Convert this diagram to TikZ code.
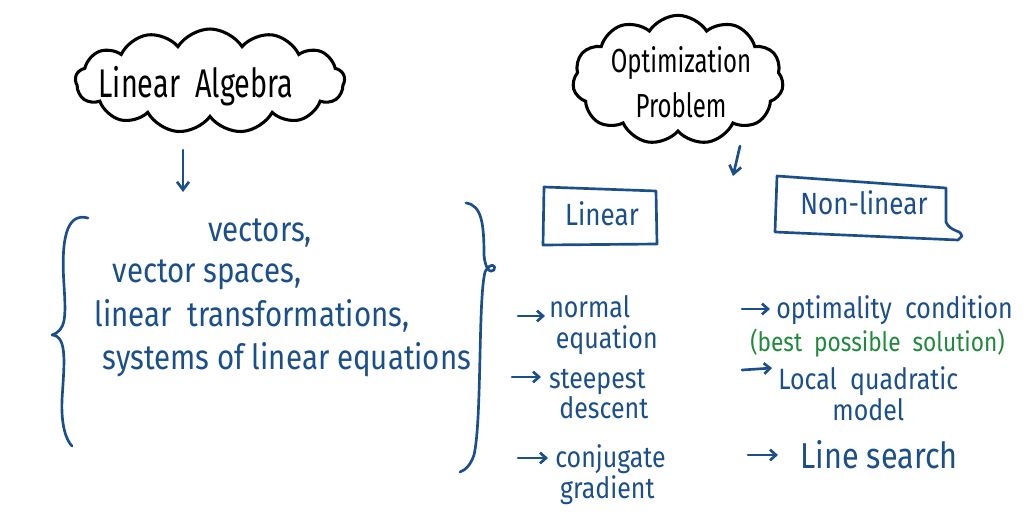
\documentclass[tikz,border=0pt]{standalone}
\usepackage{fontspec}
\setmainfont{Fira Sans}
\newfontfamily\hand[FakeStretch=0.85]{Fira Sans}
\newfontfamily\handnarrow[FakeStretch=0.72]{Fira Sans}
\usetikzlibrary{shapes.symbols,arrows.meta}
\definecolor{ink}{HTML}{1B4F8C}
\definecolor{inkgreen}{HTML}{1F8A3B}
\begin{document}
\begin{tikzpicture}[x=0.75pt,y=-0.75pt,
  cloudshape/.style={cloud, draw=black, line width=2.3pt, cloud puffs=13, cloud puff arc=115, cloud ignores aspect, inner sep=0pt},
  bigtext/.style={font=\handnarrow\fontsize{30}{34}\selectfont, text=black, inner sep=0pt},
  lefttext/.style={font=\hand\fontsize{26}{28}\selectfont, text=ink, inner sep=0pt},
  bluetext/.style={font=\hand\fontsize{22}{23}\selectfont, text=ink, inner sep=0pt},
  greentext/.style={font=\hand\fontsize{20}{22}\selectfont, text=inkgreen, inner sep=0pt},
  inkline/.style={draw=ink, line width=2pt, line cap=round, line join=round},
  arr/.style={inkline, -{Straight Barb[length=6pt,width=9pt,line width=2pt]}},
  bul/.style={inkline, -{Straight Barb[length=4.5pt,width=8pt,line width=2pt]}}
]
\useasboundingbox (0,0) rectangle (1024,528);

% clouds
\node[cloudshape, minimum width=202pt, minimum height=78pt] (la) at (210,81) {};
\node[bigtext] (latext) at (196,86) {Linear\ \ Algebra};
\node[cloudshape, cloud puffs=11, minimum width=158pt, minimum height=97pt] (op) at (678,80) {};
\node[bigtext, font=\handnarrow\fontsize{25}{34}\selectfont, align=center] (optext) at (681,82) {Optimization\\Problem};

% arrows from clouds
\coordinate (las) at (183,150);
\coordinate (lae) at (183,192);
\draw[arr] (las) -- (lae);
\coordinate (ops) at (740,146);
\coordinate (ope) at (733,176);
\draw[arr] (ops) -- (ope);

% linear algebra content
\node[lefttext] (v1) at (260,233) {vectors,};
\node[lefttext] (v2) at (207,275) {vector spaces,};
\node[lefttext] (v3) at (252,316) {linear\ \ transformations,};
\node[lefttext] (v4) at (287,360) {systems of linear equations};

% braces
\draw[inkline] (88,218) .. controls (66,212) and (61,240) .. (64,285)
  .. controls (66,318) and (66,330) .. (52,335)
  .. controls (68,336) and (64,365) .. (62,400)
  .. controls (61,425) and (66,440) .. (72,446);
\draw[inkline] (466,203) .. controls (482,205) and (484,225) .. (484,255)
  .. controls (485,268) and (490,274) .. (494,270)
  .. controls (497,265) and (490,262) .. (485,272)
  .. controls (478,300) and (482,420) .. (474,455)
  .. controls (471,464) and (466,470) .. (460,472);

% boxes
\node[bluetext, font=\hand\fontsize{23}{24}\selectfont] (lin) at (602,214) {Linear};
\draw[inkline] (544,187) -- (656,191) -- (657,244) -- (543,245) -- cycle;
\node[bluetext, font=\hand\fontsize{23}{24}\selectfont] (nonlin) at (864,203) {Non-linear};
\draw[inkline] (777,176) -- (946,188) -- (946,222)
  .. controls (950,232) and (962,230) .. (962,236)
  -- (958,240) -- (775,232) -- cycle;

% linear methods
\node[bluetext, align=left, anchor=west] (m1) at (549,325) {normal\\\ equation};
\coordinate (m1a) at (518,316);
\draw[bul] (m1a) -- (545,316);
\node[bluetext, align=center, anchor=west] (m2) at (546,394) {steepest\\\ \ descent};
\coordinate (m2a) at (512,377);
\draw[bul] (m2a) -- (541,377);
\node[bluetext, align=left, anchor=west] (m3) at (555,475) {conjugate\\\,gradient};
\coordinate (m3a) at (518,458);
\draw[bul] (m3a) -- (548,458);

% nonlinear methods
\node[bluetext, anchor=west] (n1) at (776,310) {optimality\ \ condition};
\coordinate (n1a) at (742,309);
\draw[bul] (n1a) -- (770,309);
\node[greentext, anchor=west] (n1b) at (750,343) {(best\ \ possible\ \ solution)};
\node[bluetext, align=center, anchor=west] (n2) at (778,394) {Local\ \ quadratic\\model};
\coordinate (n2a) at (742,370);
\draw[bul] (n2a) -- (772,368);
\node[bluetext, font=\hand\fontsize{27}{28}\selectfont, anchor=west] (n3) at (800,455) {Line\ search};
\coordinate (n3a) at (748,455);
\draw[bul] (n3a) -- (778,455);
\end{tikzpicture}
\end{document}
